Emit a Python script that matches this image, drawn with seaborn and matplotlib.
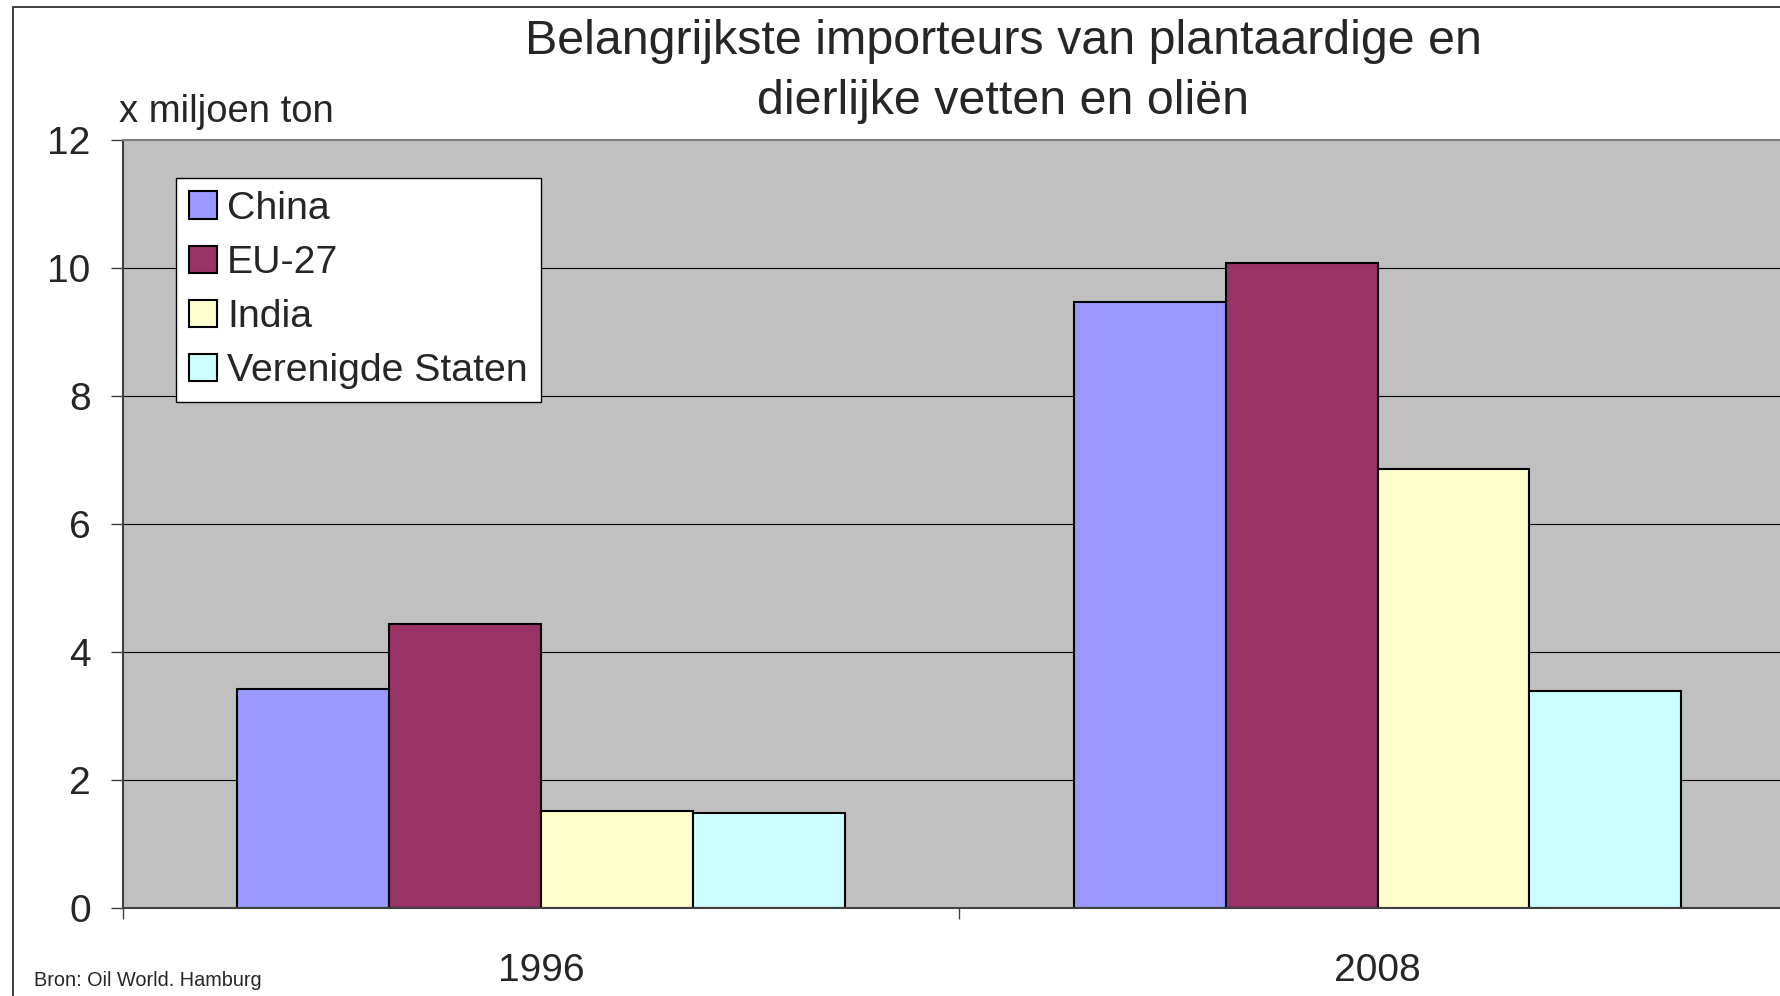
import matplotlib
matplotlib.use('Agg')
import matplotlib.pyplot as plt
import pandas as pd
import seaborn as sns
from matplotlib.patches import Rectangle

years = ['1996', '2008']
countries = ['China', 'EU-27', 'India', 'Verenigde Staten']
china = [3.42, 9.47]
eu27 = [4.43, 10.07]
india = [1.52, 6.86]
vs = [1.49, 3.39]
colors = ['#9999FF', '#993366', '#FFFFCC', '#CCFFFF']

rows = []
for land, waarden in zip(countries, [china, eu27, india, vs]):
    for jaar, w in zip(years, waarden):
        rows.append({'jaar': jaar, 'land': land, 'waarde': w})
df = pd.DataFrame(rows)

sns.set_style('white')
plt.rcParams['font.family'] = ['Liberation Sans', 'DejaVu Sans']

fig = plt.figure(figsize=(17.8, 9.96), dpi=100)
ax = fig.add_axes([0.0689, 0.0882, 0.940, 0.7717])
ax.set_facecolor('#C0C0C0')

sns.barplot(data=df, x='jaar', y='waarde', hue='land', hue_order=countries,
            palette=colors, width=0.726, gap=0, edgecolor='black', linewidth=1.5,
            saturation=1, ax=ax)

ax.set_xlim(-0.5, 1.5)
ax.set_ylim(0, 12)
ax.set_yticks(range(0, 13, 2))
ax.set_yticklabels([str(v) for v in range(0, 13, 2)])
ax.tick_params(axis='y', direction='out', length=9, width=1, color='#404040',
               labelsize=28, pad=14, left=True)
ax.tick_params(axis='x', which='major', length=0, labelsize=28, pad=32.5)
ax.set_xticks([-0.5, 0.5, 1.5], minor=True)
ax.tick_params(axis='x', which='minor', direction='out', length=8, width=1,
               color='#404040', bottom=True)
for y in range(2, 12, 2):
    ax.axhline(y, color='black', linewidth=0.8, zorder=0.5)
ax.set_axisbelow(True)
ax.set_xlabel('')
ax.set_ylabel('')

for side in ['top', 'left', 'bottom']:
    ax.spines[side].set_visible(True)
    ax.spines[side].set_color('#808080')
    ax.spines[side].set_linewidth(1.5)
ax.spines['left'].set_color('#404040')
ax.spines['bottom'].set_color('#404040')
ax.spines['right'].set_visible(False)

handles, labels = ax.get_legend_handles_labels()
ax.legend(handles, labels, loc='upper left', bbox_to_anchor=(0.0989, 0.8213),
          bbox_transform=fig.transFigure, borderaxespad=0, fontsize=28.3,
          frameon=True, fancybox=False, framealpha=1, edgecolor='black',
          handlelength=0.7, handleheight=0.7, handletextpad=0.27,
          labelspacing=0.46, borderpad=0.33)
ax.get_legend().get_frame().set_linewidth(1)

fig.text(1003 / 1780, 1 - 41 / 996, 'Belangrijkste importeurs van plantaardige en',
         ha='center', va='center', fontsize=34.8)
fig.text(1003 / 1780, 1 - 101 / 996, 'dierlijke vetten en oliën',
         ha='center', va='center', fontsize=34.8)
fig.text(119 / 1780, 1 - 112 / 996, 'x miljoen ton', ha='left', va='center', fontsize=27.5)
fig.text(34 / 1780, 1 - 980 / 996, 'Bron: Oil World. Hamburg', ha='left', va='center',
         fontsize=14.3, family=['Liberation Sans Narrow', 'Liberation Sans'])

fig.patches.append(Rectangle((12.6 / 1780, -0.1), 1.2, 1.1 - 7 / 996,
                             transform=fig.transFigure, fill=False,
                             edgecolor='#202020', linewidth=1.2))

fig.savefig('out.png', dpi=100)
